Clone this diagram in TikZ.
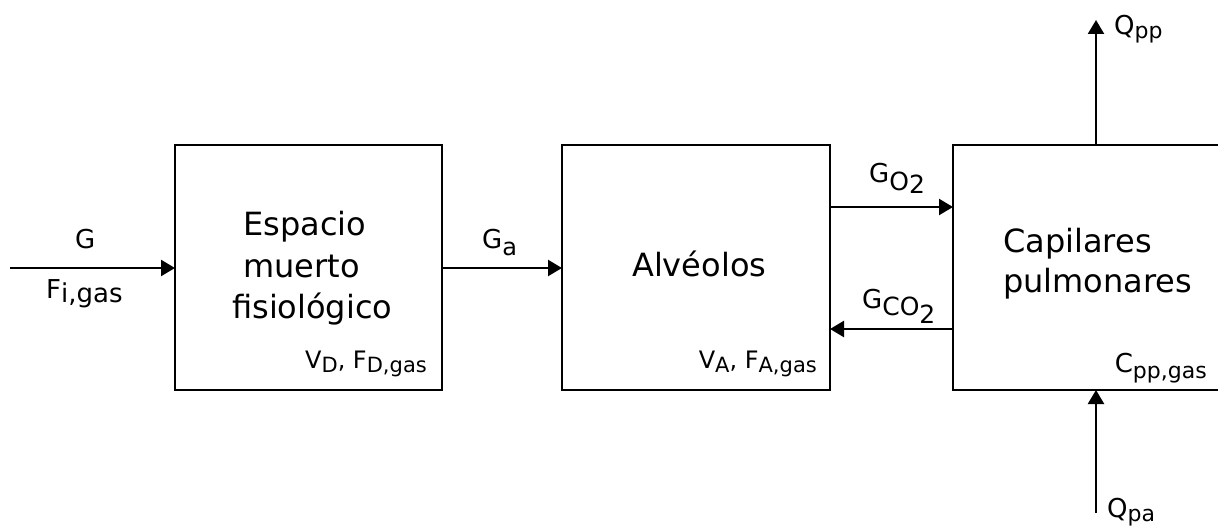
\documentclass[tikz,border=0pt]{standalone}
\usepackage{fontspec}
\setmainfont{DejaVu Sans}
\usetikzlibrary{arrows.meta}
\newcommand{\lowby}[3]{\raisebox{-#1pt}{\fontsize{#2}{#2}\selectfont #3}}
\begin{document}
\begin{tikzpicture}[x=1pt,y=-1pt,
  blk/.style={draw,line width=2.3pt},
  flow/.style={line width=2.3pt,-{Triangle[length=14pt,width=16pt]}},
  boxtxt/.style={font=\fontsize{32}{40}\selectfont,inner sep=0pt,anchor=base west},
  lbl/.style={font=\fontsize{26}{28}\selectfont,inner sep=0pt,anchor=base west},
  corner/.style={font=\fontsize{24}{26}\selectfont,inner sep=0pt,anchor=base east}]
\useasboundingbox (0,0) rectangle (1218,527);
% blocks
\draw[blk] (175,145) rectangle (442,390);
\draw[blk] (562,145) rectangle (830,390);
\draw[blk] (953,145) rectangle (1221,390);
\coordinate (b1w) at (175,268);
\coordinate (b1e) at (442,268);
\coordinate (b2w) at (562,268);
\coordinate (b2e) at (830,268);
\coordinate (b3w) at (953,268);
\coordinate (b3n) at (1096,145);
\coordinate (b3s) at (1096,390);
% box texts
\node[boxtxt] (t1a) at (243,235) {Espacio};
\node[boxtxt] (t1b) at (243,277) {muerto};
\node[boxtxt] (t1c) at (232,318) {fisiológico};
\node[boxtxt] (t2) at (632,276) {Alvéolos};
\node[boxtxt] (t3a) at (1003,252) {Capilares};
\node[boxtxt] (t3b) at (1003,292) {pulmonares};
\node[corner] (p1) at (427,368) {V\lowby{4}{21}{D}, F\lowby{4}{21}{D,gas}};
\node[corner] (p2) at (817,368) {V\lowby{4}{21}{A}, F\lowby{4}{21}{A,gas}};
\node[corner,font=\fontsize{26}{28}\selectfont] (p3) at (1207,372) {C\lowby{6}{22}{pp,gas}};
% connectors
\coordinate (in) at (10,268);
\draw[flow] (in) -- (b1w);
\draw[flow] (b1e) -- (b2w);
\draw[flow] (b2e |- 0,207) -- (b3w |- 0,207);
\draw[flow] (b3w |- 0,329) -- (b2e |- 0,329);
\coordinate (qpp) at (1096,20);
\coordinate (qpa) at (1096,513);
\draw[flow] (b3n) -- (qpp);
\draw[flow] (qpa) -- (b3s);
% labels
\node[lbl] (lg) at (75,248) {G};
\node[lbl] (lfi) at (46,298) {F\lowby{4}{26}{i,gas}};
\node[lbl] (lga) at (482,248) {G\lowby{7}{24}{a}};
\node[lbl] (lo2) at (869,182) {G\lowby{8}{25}{O\lowby{3}{25}{2}}};
\node[lbl] (lco2) at (862,308) {G\lowby{7}{25}{CO\lowby{8}{25}{2}}};
\node[lbl] (lqpp) at (1114,35) {Q\lowby{4}{22}{pp}};
\node[lbl] (lqpa) at (1107,517) {Q\lowby{4}{22}{pa}};
\end{tikzpicture}
\end{document}
